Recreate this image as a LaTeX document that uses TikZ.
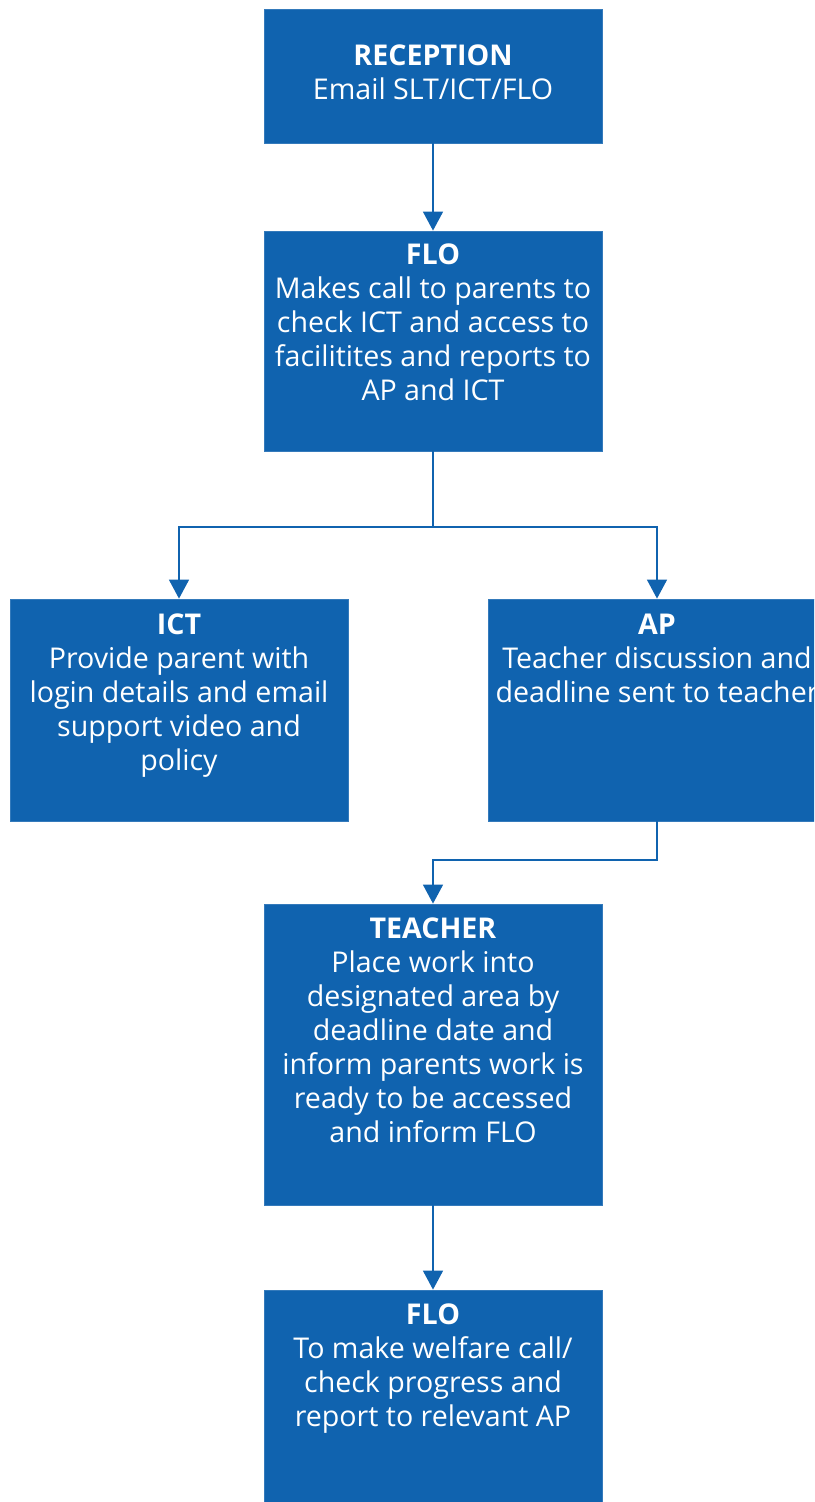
\documentclass[tikz,border=0pt]{standalone}
\usepackage{fontspec}
\setmainfont{Open Sans}
\usetikzlibrary{arrows.meta}

\definecolor{flowblue}{RGB}{16,99,175}

\tikzset{
  stagebox/.style={fill=flowblue, draw=flowblue!85!white, line width=0.8pt, minimum width=338pt, inner sep=0pt},
  stagetext/.style={below=#1, text=white, align=center, inner sep=0pt, font=\fontsize{28.6}{34}\selectfont},
  flowarrow/.style={draw=flowblue, line width=1.5pt, -{Triangle[width=20pt,length=19pt]}},
}

\begin{document}
\begin{tikzpicture}[x=1pt, y=1pt]
\useasboundingbox (0,0) rectangle (814,-1502);
\clip (0,0) rectangle (814,-1502);
% Stages
\node[stagebox, minimum height=134pt, label={[stagetext=36pt]north:{\textbf{RECEPTION}\\Email SLT/ICT/FLO}}] (reception) at (433,-76) {};
\node[stagebox, minimum height=220pt, label={[stagetext=13pt]north:{\textbf{FLO}\\Makes call to parents to\\check ICT and access to\\facilitites and reports to\\AP and ICT}}] (flo) at (433,-341) {};
\node[stagebox, minimum height=222pt, label={[stagetext=15pt]north:{\textbf{ICT}\\Provide parent with\\login details and email\\support video and\\policy}}] (ict) at (179,-710) {};
\node[stagebox, minimum height=222pt, label={[stagetext=15pt]north:{\textbf{AP}\\Teacher discussion and\\deadline sent to teacher}}] (ap) at (657,-710) {};
\node[stagebox, minimum height=301pt, label={[stagetext=14pt]north:{\textbf{TEACHER}\\Place work into\\designated area by\\deadline date and\\inform parents work is\\ready to be accessed\\and inform FLO}}] (teacher) at (433,-1054.5) {};
\node[stagebox, minimum height=250pt, label={[stagetext=14pt]north:{\textbf{FLO}\\To make welfare call/\\check progress and\\report to relevant AP}}] (welfare) at (433,-1415) {};
% Split and merge points
\coordinate (split) at (433,-527);
\coordinate (merge) at (657,-860);
% Connectors
\draw[flowarrow] (reception.south) -- (flo.north);
\draw[flowarrow] (flo.south) -- (split) -| (ict.north);
\draw[flowarrow] (split) -| (ap.north);
\draw[flowarrow] (ap.south) -- (merge) -| (teacher.north);
\draw[flowarrow] (teacher.south) -- (welfare.north);
\end{tikzpicture}
\end{document}
